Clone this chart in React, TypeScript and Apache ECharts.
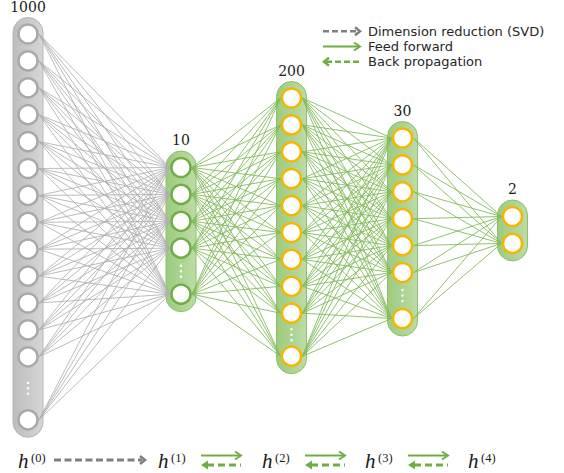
import React, { useEffect, useRef } from "react";
import * as echarts from "echarts";

// ---- data ----
const layerSizes = [1000, 10, 200, 30, 2];
const shownNodes = [13, 4, 9, 6, 2]; // nodes drawn before the ellipsis
const hasTail = [true, true, true, true, false]; // ellipsis + final node
const hSup = ["(0)", "(1)", "(2)", "(3)", "(4)"];
const legendLabels = ["Dimension reduction (SVD)", "Feed forward", "Back propagation"];

// ---- layout ----
const W = 564;
const H = 473;
const LX = [28, 181, 291.5, 402.5, 512.5];
const FIRST_Y = [34, 167.5, 98, 138, 216.5];
const TAIL_GAP = [63, 46, 43, 46, 0];
const STEP = 26.9;
const R = 11;
const PILL_W = 30;
const HX = [18, 158, 262, 365, 468];
const GREEN = "#70ad47";
const GRAY_ARROW = "#7f7f7f";

function nodeYs(i: number): number[] {
  const ys: number[] = [];
  for (let k = 0; k < shownNodes[i]; k++) ys.push(FIRST_Y[i] + k * STEP);
  if (hasTail[i]) ys.push(ys[ys.length - 1] + TAIL_GAP[i]);
  return ys;
}

function buildOption() {
  const layers = layerSizes.map((_, i) => nodeYs(i));
  const pillData = layers.map((ys, i) => [LX[i], ys[0] - 16.5, ys[ys.length - 1] + 17.5, i]);
  const nodeData: any[] = [];
  layers.forEach((ys, i) => {
    const border = i === 0 ? "#a8a8a8" : i === 1 ? GREEN : "#f7b500";
    ys.forEach((y) => nodeData.push({ value: [LX[i], y], itemStyle: { borderColor: border } }));
  });
  const dotData: number[][] = [];
  layers.forEach((ys, i) => {
    if (!hasTail[i]) return;
    const n = ys.length;
    const mid = (ys[n - 2] + ys[n - 1]) / 2;
    [-5.5, 0, 5.5].forEach((d) => dotData.push([LX[i], mid + d]));
  });
  const grayLinks: any[] = [];
  const greenLinks: any[] = [];
  for (let i = 0; i < layers.length - 1; i++) {
    layers[i].forEach((ya) => {
      layers[i + 1].forEach((yb) => {
        const item = { coords: [[LX[i] + R, ya], [LX[i + 1] - R, yb]] };
        (i === 0 ? grayLinks : greenLinks).push(item);
      });
    });
  }
  const labelData = layers.map((ys, i) => ({ value: [LX[i], ys[0] - 27.5], name: String(layerSizes[i]) }));

  // legend graphics
  const graphic: any[] = [];
  const legY = [31.3, 46.5, 61.7];
  const lx0 = 323;
  const lx1 = 360;
  graphic.push({ type: "line", shape: { x1: lx0, y1: legY[0], x2: lx1 - 3, y2: legY[0] }, style: { stroke: GRAY_ARROW, lineWidth: 2.5, lineDash: [6, 3] } });
  graphic.push({ type: "polyline", shape: { points: [[lx1 - 5, legY[0] - 4], [lx1, legY[0]], [lx1 - 5, legY[0] + 4]] }, style: { stroke: GRAY_ARROW, lineWidth: 2.5, fill: null } });
  graphic.push({ type: "line", shape: { x1: lx0, y1: legY[1], x2: lx1 - 1, y2: legY[1] }, style: { stroke: GREEN, lineWidth: 2 } });
  graphic.push({ type: "polyline", shape: { points: [[lx1 - 6, legY[1] - 4], [lx1, legY[1]], [lx1 - 6, legY[1] + 4]] }, style: { stroke: GREEN, lineWidth: 2, fill: null } });
  graphic.push({ type: "line", shape: { x1: lx0 + 3, y1: legY[2], x2: lx1, y2: legY[2] }, style: { stroke: GREEN, lineWidth: 2.5, lineDash: [6, 3] } });
  graphic.push({ type: "polyline", shape: { points: [[lx0 + 6, legY[2] - 4], [lx0 + 1, legY[2]], [lx0 + 6, legY[2] + 4]] }, style: { stroke: GREEN, lineWidth: 2.5, fill: null } });
  legendLabels.forEach((t, k) => {
    graphic.push({
      type: "text",
      x: 368,
      y: legY[k],
      style: { text: t, fontFamily: "DejaVu Sans", fontSize: 13, lineHeight: 14, fill: "#262626", verticalAlign: "middle", align: "left" },
    });
  });

  // bottom arrows
  const by = 460;
  graphic.push({ type: "line", shape: { x1: 54, y1: by, x2: 142, y2: by }, style: { stroke: GRAY_ARROW, lineWidth: 3, lineDash: [7, 3.5] } });
  graphic.push({ type: "polyline", shape: { points: [[140, by - 4], [145, by], [140, by + 4]] }, style: { stroke: GRAY_ARROW, lineWidth: 2.5, fill: null } });
  [[201, 241], [305, 345], [408, 448]].forEach(([a, b]) => {
    const uy = 455.5;
    const dy = 465;
    graphic.push({ type: "line", shape: { x1: a, y1: uy, x2: b - 1, y2: uy }, style: { stroke: GREEN, lineWidth: 2 } });
    graphic.push({ type: "polyline", shape: { points: [[b - 6, uy - 4], [b, uy], [b - 6, uy + 4]] }, style: { stroke: GREEN, lineWidth: 2, fill: null } });
    graphic.push({ type: "line", shape: { x1: a + 6, y1: dy, x2: b, y2: dy }, style: { stroke: GREEN, lineWidth: 3, lineDash: [7, 4] } });
    graphic.push({ type: "polygon", shape: { points: [[a + 7, dy - 4.5], [a, dy], [a + 7, dy + 4.5]] }, style: { fill: GREEN } });
  });
  // bottom labels h^(k)
  hSup.forEach((s, i) => {
    graphic.push({ type: "text", x: HX[i], y: 461, style: { text: "h", fontFamily: "Liberation Serif", fontStyle: "italic", fontSize: 21, fill: "#1a1a1a", verticalAlign: "middle", align: "left" } });
    graphic.push({ type: "text", x: HX[i] + 13, y: 457.5, style: { text: s, fontFamily: "Liberation Serif", fontSize: 12.5, fill: "#1a1a1a", verticalAlign: "middle", align: "left" } });
  });

  return {
    animation: false,
    backgroundColor: "#ffffff",
    grid: { left: 0, top: 0, width: W, height: H, show: false },
    xAxis: { type: "value", min: 0, max: W, show: false },
    yAxis: { type: "value", min: 0, max: H, inverse: true, show: false },
    graphic,
    series: [
      {
        type: "custom",
        z: 1,
        silent: true,
        data: pillData,
        renderItem: (params: any, api: any) => {
          const x = api.value(0);
          const y0 = api.value(1);
          const y1 = api.value(2);
          const li = api.value(3);
          const p0 = api.coord([x, y0]);
          const p1 = api.coord([x, y1]);
          const gray = li === 0;
          const fill = new echarts.graphic.LinearGradient(0, 0, 1, 0, gray
            ? [{ offset: 0, color: "#bdbdbd" }, { offset: 1, color: "#d6d6d6" }]
            : [{ offset: 0, color: "#9ccb7e" }, { offset: 1, color: "#bcdca6" }]);
          return {
            type: "rect",
            shape: { x: p0[0] - PILL_W / 2, y: p0[1], width: PILL_W, height: p1[1] - p0[1], r: PILL_W / 2 },
            style: { fill, stroke: gray ? "#b5b5b5" : "#8cc06a", lineWidth: 1 },
          };
        },
      },
      {
        type: "lines",
        coordinateSystem: "cartesian2d",
        z: 2,
        silent: true,
        data: grayLinks,
        lineStyle: { color: "#b0b0b0", width: 0.85, opacity: 1 },
      },
      {
        type: "lines",
        coordinateSystem: "cartesian2d",
        z: 2,
        silent: true,
        data: greenLinks,
        lineStyle: { color: "#84bb5e", width: 0.9, opacity: 1 },
      },
      {
        type: "scatter",
        z: 3,
        silent: true,
        data: nodeData,
        symbol: "circle",
        symbolSize: 19,
        itemStyle: { color: "#ffffff", borderWidth: 2.5, opacity: 1 },
      },
      {
        type: "scatter",
        z: 3,
        silent: true,
        data: dotData,
        symbolSize: 2.5,
        itemStyle: { color: "#ffffff", opacity: 0.95 },
      },
      {
        type: "scatter",
        z: 4,
        silent: true,
        data: labelData,
        symbolSize: 1,
        itemStyle: { color: "rgba(0,0,0,0)" },
        label: {
          show: true,
          position: "inside",
          formatter: (p: any) => p.name,
          fontFamily: "DejaVu Serif",
          fontSize: 14,
          color: "#1a1a1a",
          textBorderWidth: 0,
          textBorderColor: "transparent",
          opacity: 1,
        },
      },
    ],
  };
}

export default function App() {
  const ref = useRef<HTMLDivElement>(null);
  useEffect(() => {
    if (!ref.current) return;
    const chart = echarts.init(ref.current, undefined, { renderer: "svg" });
    chart.setOption(buildOption() as any);
    return () => chart.dispose();
  }, []);
  return <div ref={ref} style={{ position: "fixed", left: 0, top: 0, width: W, height: H }} />;
}
